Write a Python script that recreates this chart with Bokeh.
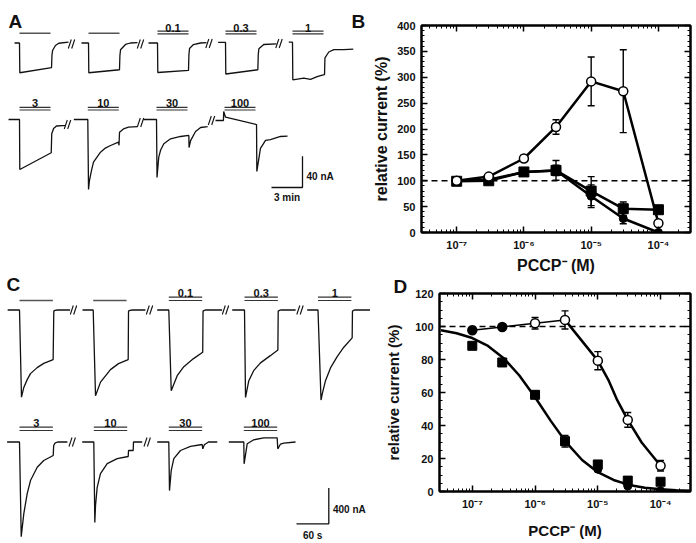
import math
from bokeh.plotting import figure
from bokeh.models import (Range1d, Span, Whisker, ColumnDataSource, LogAxis, LinearAxis,
                          CustomJSTickFormatter, TeeHead, FixedTicker)
from bokeh.layouts import row, column
from bokeh.embed import file_html
from bokeh.resources import INLINE
from bokeh.core.properties import value

FONT = "Liberation Sans"
INK = "#111111"

# ---------------- Panel A : time (min) from application onset, current (nA) from baseline
a1_t = [-0.48, 0, 0.03, 3.1, 3.14, 3.2, 3.48, 3.8, 4.74]
a1_i = [0, 0, -38, -31.4, -16, -9.6, -3.2, -0.3, 1.0]
a2_t = [-0.68, 0, 0.03, 3.0, 3.04, 3.1, 3.58, 4.06, 4.74]
a2_i = [0, 0, -38, -34.2, -16, -8.7, -1.9, 0, 0.6]
a3_t = [-0.87, 0, 0.03, 3.0, 3.04, 3.1, 3.48, 4.16, 4.74]
a3_i = [0, 0, -37.7, -35, -15, -7, -2, 0, 0.6]
a4_t = [-0.71, 0, 0.03, 3.13, 3.17, 3.23, 3.7, 4.93]
a4_i = [0.8, 0.8, -39.6, -34.2, -15, -7.4, -1.9, -1.0]
a5_t = [-0.36, 0, 0.03, 1.09, 1.74, 2.39, 2.87, 3.1, 3.14, 3.51, 4.0, 4.97, 5.88]
a5_i = [1.0, 1.0, -47, -45, -46.5, -43, -41, -40.5, -19, -11.5, -8.5, -8.5, -7.7]
a6_t = [-1.06, 0, 0.03, 3.07, 3.12, 3.3, 3.58, 4.16, 4.45]
a6_i = [0, 0, -63.9, -42.5, -18.3, -11.5, -8.3, -7.7, -7.7]
a7_t = [-1.35, 0, 0.07, 0.16, 0.36, 0.55, 1.23, 1.7, 2.2, 2.97, 3.02, 3.07, 3.45, 3.94, 4.81]
a7_i = [0, 0, -89.4, -78, -65, -54.5, -41.7, -36.5, -33.2, -29, -33, -16.2, -12, -9.8, -9]
a8_t = [-1.26, 0, 0.05, 0.22, 0.4, 0.71, 1.36, 2.33, 3.13, 3.15, 3.3, 3.78, 4.27, 4.95]
a8_i = [0, 0, -74, -48, -39, -31, -24.7, -21.7, -20.4, -35.8, -27, -15.3, -10.2, -9]
a9_t = [-0.87, -0.1, -0.08, 0.1, 3.1, 3.13, 3.48, 3.97, 4.45, 5.42, 6.1]
a9_i = [-1.3, -1.3, 10.2, 2.9, -6.4, -66.4, -37, -26.8, -25.6, -21.7, -21.3]
a_labels = ["", "", "0.1", "0.3", "1", "3", "10", "30", "100"]
A_APPLY_MIN = 3.0
A_SCALE_MIN = 3
A_SCALE_NA = 40

# ---------------- Panel C : time (s) from application onset, current (nA) from baseline
c1_t = [-22, 0, 3.7, 8, 14.3, 20.4, 32.8, 45, 62.5, 63.7, 66, 70.6, 94]
c1_i = [0, 0, -974, -865, -778, -711, -644, -596, -554, -13, -4, 0, 0]
c2_t = [-19.9, 0, 4.3, 13.6, 32.1, 47, 65, 65.6, 68, 73, 97]
c2_i = [0, 0, -958, -806, -666, -599, -554, -13, -4, 0, 0]
c3_t = [-21.5, 0, 4.5, 15.6, 27.9, 45.9, 63, 63.6, 66, 68, 99]
c3_i = [0, 0, -902, -734, -633, -543, -473, -13, -4, 0, 0]
c4_t = [-22.8, 0, 1.9, 8, 17, 29.7, 48, 62, 62.6, 65, 67, 95]
c4_i = [0, 0, -977, -790, -678, -591, -510, -446, -13, -4, 0, 0]
c5_t = [-20, 0, 5.6, 7.8, 13.9, 23.2, 35.6, 48, 63.5, 64, 66, 68, 97.5]
c5_i = [0, 0, -1006, -939, -790, -647, -521, -416, -311, -13, -4, 0, 0]
c6_t = [-23, 0, 3.2, 8, 14.3, 20.4, 32.9, 45, 62.6, 63.5, 66, 70.6, 89]
c6_i = [0, 0, -1058, -801, -577, -431, -282, -207, -151, -39, -12, 0, 0]
c7_t = [-21.5, 0, 1.9, 3.2, 6.3, 12.4, 24.9, 43.5, 63.9, 64.5, 73.2, 73.7, 90]
c7_i = [0, 0, -898, -710, -506, -353, -241, -185, -162, -95, -95, 0, 0]
c8_t = [-21.5, 0, 1.3, 4.5, 9.3, 21.7, 40.3, 62, 63.1, 66, 73.7, 90]
c8_i = [0, 0, -543, -319, -185, -95, -50, -28, -76, -30, 0, 0]
c9_t = [-27.9, 0, 0.6, 6.3, 18.6, 37.1, 62, 63.1, 68, 74.3, 96]
c9_i = [0, 0, -244, -20, 25, 47, 47, -76, -25, -13, 0]
c_labels = ["", "", "0.1", "0.3", "1", "3", "10", "30", "100"]
C_APPLY_S = 62
C_SCALE_S = 60
C_SCALE_NA = 400

# ---------------- Panels B and D : relative current (%) vs PCCP- (M)
conc = [1e-7, 3e-7, 1e-6, 3e-6, 1e-5, 3e-5, 1e-4]
b_open = [100, 108, 143, 204, 292, 273, 18]
b_open_err = [2, 4, 6, 14, 47, 80, 5]
b_square = [99, 100, 117, 120, 80, 46, 44]
b_square_err = [3, 3, 4, 19, 28, 13, 4]
b_filled = [100, 102, 117, 120, 70, 27, 0]
b_filled_err = [2, 2, 3, 10, 22, 10, 1]

d_open = [97.7, 99.7, 102, 104, 79.3, 43.4, 15.6]
d_open_err = [1, 1, 3.5, 5.5, 5.5, 4.5, 3.2]
d_square = [88.3, 78.2, 58.6, 30.5, 16.4, 6.6, 5.9]
d_square_err = [1, 1, 1.5, 3.5, 1.5, 1, 1]
d_filled = [97.7, 99.7, float("nan"), float("nan"), 13.5, 3.3, 0.4]
d_fit_sq_conc = [3.16e-8, 5.62e-8, 1e-7, 1.78e-7, 3.16e-7, 5.62e-7, 1e-6, 1.78e-6, 3.16e-6,
                 5.62e-6, 1e-5, 1.78e-5, 3.16e-5, 5.62e-5, 1e-4, 1.78e-4, 3.16e-4]
d_fit_sq = [97.7, 95.9, 93.0, 88.2, 80.8, 70.3, 57.1, 42.8, 29.6,
            19.1, 11.7, 7.0, 4.0, 2.3, 1.3, 0.7, 0.4]
d_fit_open_conc = [3e-6, 1e-5, 1.5e-5, 2e-5, 3e-5, 5e-5, 1e-4]
d_fit_open = [104, 79.3, 67, 56, 43.4, 29.7, 15.6]
control_level = 100

x_tick_values = [1e-7, 1e-6, 1e-5, 1e-4]
x_tick_labels = ["10⁻⁷", "10⁻⁶", "10⁻⁵", "10⁻⁴"]
b_y_ticks = [0, 50, 100, 150, 200, 250, 300, 350, 400]
d_y_ticks = [0, 20, 40, 60, 80, 100, 120]
x_label = "PCCP⁻ (M)"
y_label = "relative current (%)"

# ================= layout (page pixels) =================
WL, WR, H = 370, 324, 541
HB = 276
HD = H - HB

A_MPP = A_SCALE_MIN / 31.0
A_NPP = A_SCALE_NA / 31.3
C_SPP = C_SCALE_S / 32.3
C_NPP = C_SCALE_NA / 35.8

def ax(px): return px * A_MPP
def ay(py): return -py * A_NPP
def cx(px): return px * C_SPP
def cy(py): return -py * C_NPP

a_t = [a1_t, a2_t, a3_t, a4_t, a5_t, a6_t, a7_t, a8_t, a9_t]
a_i = [a1_i, a2_i, a3_i, a4_i, a5_i, a6_i, a7_i, a8_i, a9_i]
c_t = [c1_t, c2_t, c3_t, c4_t, c5_t, c6_t, c7_t, c8_t, c9_t]
c_i = [c1_i, c2_i, c3_i, c4_i, c5_i, c6_i, c7_i, c8_i, c9_i]

a_onset_px = [19, 88, 157, 225, 292, 19, 87.3, 156, 224]
a_row = [0, 0, 0, 0, 0, 1, 1, 1, 1]
A_BASE = [42.5, 119]
A_BAR_SINGLE = [32.7, 108]
A_BAR_DOUBLE = [(30.6, 33.4), (106.8, 109.5)]
A_LABEL_BASE = [27.5, 102.9]
a_breaks = [(71, 43.5), (140, 43.5), (208.5, 43), (278.5, 43), (67, 124), (140, 122), (211, 120)]

c_onset_px = [19, 92.7, 168.3, 244, 317.5, 19, 93.3, 168.3, 243.3]
c_row = [0, 0, 0, 0, 0, 1, 1, 1, 1]
C_BASE = [309.5, 441.5]
C_BAR_SINGLE = [300, 430]
C_BAR_DOUBLE = [(296.7, 300), (426.7, 430)]
C_LABEL_BASE = [292.7, 422.9]
c_breaks = [(73, 309.5), (149, 309.5), (225, 309.5), (299.5, 309.5), (71.7, 441.5), (146.7, 441.5)]

left = figure(width=WL, height=H, x_range=Range1d(0, WL * A_MPP), y_range=Range1d(-H * A_NPP, 0),
              x_axis_location=None, y_axis_location=None, toolbar_location=None,
              output_backend="svg", min_border=0, outline_line_color=None)
left.extra_x_ranges = {"c": Range1d(0, WL * C_SPP)}
left.extra_y_ranges = {"c": Range1d(-H * C_NPP, 0)}
left.grid.visible = False

def txt(p, x, y, s, size, align="center", **kw):
    p.text(x=[x], y=[y], text=[s], text_font=value(FONT), text_font_style="bold",
           text_font_size=size, text_align=align, text_baseline="alphabetic",
           text_color=INK, **kw)

def draw_panel(ts, cs, onsets, rows, base, bar1, bar2, lab_base, labels, apply_len,
               fx, fy, breaks, rng):
    kw = dict(x_range_name=rng, y_range_name=rng) if rng else {}
    for t, i, on, r in zip(ts, cs, onsets, rows):
        x0 = fx(on)
        y0 = fy(base[r])
        left.line([x0 + v for v in t], [y0 + v for v in i], line_color=INK, line_width=1.3, **kw)
    for on, r, lab in zip(onsets, rows, labels):
        x0 = fx(on)
        x1 = x0 + apply_len
        if lab == "":
            left.segment(x0=[x0], y0=[fy(bar1[r])], x1=[x1], y1=[fy(bar1[r])],
                         line_color="#555555", line_width=1.6, **kw)
        else:
            ya, yb = bar2[r]
            left.segment(x0=[x0, x0], y0=[fy(ya), fy(yb)], x1=[x1, x1], y1=[fy(ya), fy(yb)],
                         line_color="#333333", line_width=1.2, **kw)
            txt(left, (x0 + x1) / 2, fy(lab_base[r]), lab, "11px", **kw)
    bx0, by0, bx1, by1 = [], [], [], []
    for px, py in breaks:
        for dd in (-1.7, 1.7):
            bx0.append(fx(px + dd - 1.5)); by0.append(fy(py + 4.5))
            bx1.append(fx(px + dd + 1.5)); by1.append(fy(py - 4.5))
    left.segment(x0=bx0, y0=by0, x1=bx1, y1=by1, line_color=INK, line_width=1.1, **kw)

draw_panel(a_t, a_i, a_onset_px, a_row, A_BASE, A_BAR_SINGLE, A_BAR_DOUBLE, A_LABEL_BASE,
           a_labels, A_APPLY_MIN, ax, ay, a_breaks, None)
draw_panel(c_t, c_i, c_onset_px, c_row, C_BASE, C_BAR_SINGLE, C_BAR_DOUBLE, C_LABEL_BASE,
           c_labels, C_APPLY_S, cx, cy, c_breaks, "c")

# scale bars
sxa, sya = ax(302), ay(187)
left.line([sxa - A_SCALE_MIN, sxa, sxa], [sya, sya, sya + A_SCALE_NA], line_color=INK, line_width=1.3)
txt(left, ax(306), ay(175.5), f"{A_SCALE_NA} nA", "10px", align="left")
txt(left, sxa - A_SCALE_MIN / 2, ay(197), f"{A_SCALE_MIN} min", "10px")
sxc, syc = cx(328.3), cy(523.3)
left.line([sxc - C_SCALE_S, sxc, sxc], [syc, syc, syc + C_SCALE_NA], line_color=INK, line_width=1.3,
          x_range_name="c", y_range_name="c")
txt(left, cx(332.5), cy(508.5), f"{C_SCALE_NA} nA", "10px", align="left", x_range_name="c", y_range_name="c")
txt(left, sxc - C_SCALE_S / 2, cy(535), f"{C_SCALE_S} s", "10px", x_range_name="c", y_range_name="c")

# panel letters
txt(left, ax(8), ay(21), "A", "19px", align="left")
txt(left, ax(351), ay(20.5), "B", "19px", align="left")
txt(left, ax(6), ay(284), "C", "19px", align="left")

# ================= B and D =================
XLO, XHI = 3e-8, 3e-4
x_minor = [m * 10.0 ** e for e in range(-8, -3) for m in range(1, 10) if XLO <= m * 10.0 ** e <= XHI]
JS = """
for (let k = 0; k < tvals.length; k++) {
  if (Math.abs(Math.log10(tvals[k]) - Math.log10(tick)) < 0.001) return tlabels[k];
}
return "";
"""
BLANK = "return '';"

def make_plot(h, ymax, yticks, yminor_step, mb, label_size, ylab_standoff, xlab_standoff):
    ml, mr, mt, mbot = mb
    p = figure(width=WR, height=h, x_axis_type="log", x_range=Range1d(XLO, XHI),
               y_range=Range1d(0, ymax), toolbar_location=None, output_backend="svg",
               min_border_left=ml, min_border_right=mr, min_border_top=mt, min_border_bottom=mbot)
    p.xgrid.visible = False
    p.ygrid.visible = False
    p.outline_line_color = "black"
    p.outline_line_width = 2
    yminor = [v for v in range(0, ymax + 1, yminor_step)]
    p.below[0].ticker = FixedTicker(ticks=x_tick_values, minor_ticks=x_minor)
    p.below[0].formatter = CustomJSTickFormatter(args=dict(tvals=x_tick_values, tlabels=x_tick_labels), code=JS)
    p.left[0].ticker = FixedTicker(ticks=yticks, minor_ticks=yminor)
    top = LogAxis(ticker=FixedTicker(ticks=x_tick_values, minor_ticks=x_minor),
                  formatter=CustomJSTickFormatter(code=BLANK), major_label_text_font_size="0px",
                  major_label_standoff=0)
    rgt = LinearAxis(ticker=FixedTicker(ticks=yticks, minor_ticks=yminor),
                     formatter=CustomJSTickFormatter(code=BLANK), major_label_text_font_size="0px",
                     major_label_standoff=0)
    p.add_layout(top, "above")
    p.add_layout(rgt, "right")
    for a in [p.below[0], p.left[0], top, rgt]:
        a.major_tick_in = 6
        a.major_tick_out = 0
        a.minor_tick_in = 3
        a.minor_tick_out = 0
        a.axis_line_width = 2
        a.major_tick_line_width = 1.5
        a.minor_tick_line_width = 1
    for a in [p.below[0], p.left[0]]:
        a.major_label_text_font = FONT
        a.major_label_text_font_style = "bold"
        a.major_label_text_font_size = "11px"
        a.major_label_text_color = INK
        a.major_label_standoff = 6
        a.axis_label_text_font = FONT
        a.axis_label_text_font_style = "bold"
        a.axis_label_text_font_size = label_size
        a.axis_label_text_color = INK
    p.below[0].axis_label = x_label
    p.below[0].axis_label_standoff = xlab_standoff
    p.left[0].axis_label = y_label
    p.left[0].axis_label_standoff = ylab_standoff
    p.add_layout(Span(location=control_level, dimension="width", line_dash="6 4",
                      line_width=1.6, line_color="black", level="underlay"))
    return p

def whisk(p, xs, vals, errs):
    src = ColumnDataSource(dict(x=xs, lo=[v - e for v, e in zip(vals, errs)],
                                hi=[v + e for v, e in zip(vals, errs)]))
    p.add_layout(Whisker(base="x", lower="lo", upper="hi", source=src, line_width=1.4,
                         line_color="black",
                         upper_head=TeeHead(size=7, line_width=1.4),
                         lower_head=TeeHead(size=7, line_width=1.4)))

# B  (frame: page x 416-690, y 25-236)
B_MB = (46, 4, 25, HB - 236)
b = make_plot(HB, 400, b_y_ticks, 10, B_MB, "16px", 4, 3)
b.line(conc, b_filled, line_width=2.5, line_color="black")
b.line(conc, b_square, line_width=2.5, line_color="black")
b.line(conc, b_open, line_width=2.5, line_color="black")
whisk(b, conc, b_filled, b_filled_err)
whisk(b, conc, b_square, b_square_err)
whisk(b, conc, b_open, b_open_err)
b.scatter(conc, b_filled, marker="circle", size=8, fill_color="black", line_color="black")
b.scatter(conc, b_square, marker="square", size=10, fill_color="black", line_color="black")
b.scatter(conc, b_open, marker="circle", size=9, fill_color="white", line_color="black", line_width=1.5)

# D  (frame: page x 439-690, y 293-497)
D_MB = (69, 4, 293 - HB, HB + HD - 497)
d = make_plot(HD, 120, d_y_ticks, 5, D_MB, "15px", 10, 9)
d.line(d_fit_sq_conc, d_fit_sq, line_width=2.5, line_color="black")
d.line(conc[:4], d_open[:4], line_width=1.5, line_color="black")
d.line(d_fit_open_conc, d_fit_open, line_width=2.5, line_color="black")
whisk(d, conc, d_square, d_square_err)
whisk(d, conc, d_open, d_open_err)
d.scatter(conc, d_square, marker="square", size=9, fill_color="black", line_color="black")
d.scatter(conc, d_open, marker="circle", size=9, fill_color="white", line_color="black", line_width=1.5)
d.scatter(conc, d_filled, marker="circle", size=8, fill_color="black", line_color="black")

# panel letter "D" as the plot title, pulled left of the frame
d.title.text = "D"
d.title.align = "left"
d.title.offset = -(D_MB[0] - 23)
d.title.standoff = -6
d.title.text_font = FONT
d.title.text_font_style = "bold"
d.title.text_font_size = "19px"
d.title.text_color = INK

layout = row(left, column(row(b), row(d)))
open("out.html", "w").write(file_html(layout, INLINE))
